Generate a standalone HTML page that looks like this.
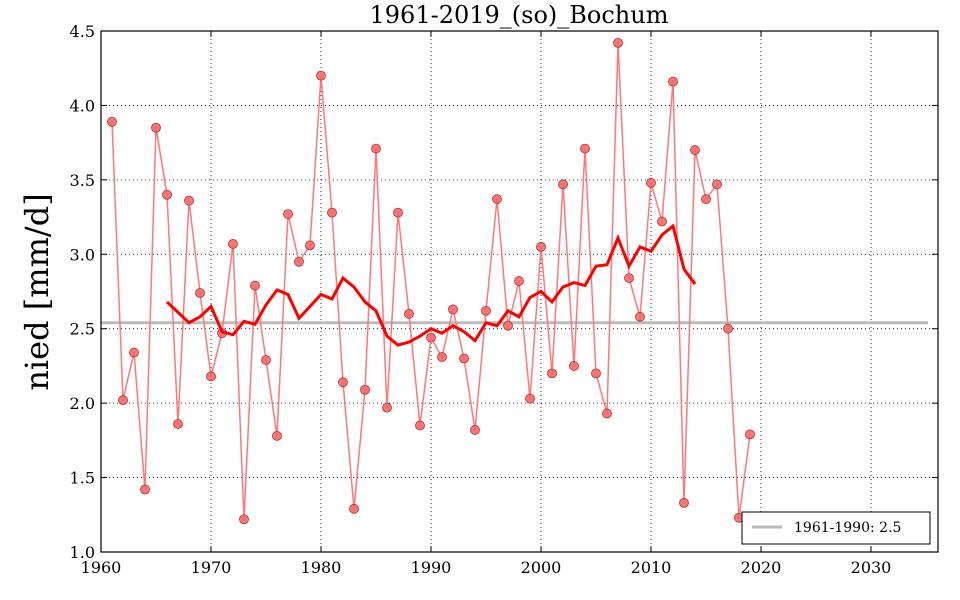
<!DOCTYPE html>
<html><head><meta charset="utf-8"><style>body{margin:0;background:#fff}svg{display:block}text{font-family:"DejaVu Serif","Liberation Serif",serif}</style></head>
<body><svg id="s" width="960" height="600" xmlns="http://www.w3.org/2000/svg"></svg>
<script>
const s=document.getElementById('s');
const X=y=>101+(y-1960)*11.0, Y=v=>552-(v-1)*148.86;
let h='<rect width="960" height="600" fill="#fff"/>';
for(let y=1960;y<=2030;y+=10){h+=`<line x1="${X(y)}" y1="31" x2="${X(y)}" y2="552" stroke="#000" stroke-width="0.8" stroke-dasharray="1,3"/>`;h+=`<text x="${X(y)}" y="573" font-size="16" text-anchor="middle">${y}</text>`;h+=`<line x1="${X(y)}" y1="552" x2="${X(y)}" y2="546" stroke="#000"/><line x1="${X(y)}" y1="31" x2="${X(y)}" y2="37" stroke="#000"/>`;}
for(let v=1;v<=4.51;v+=0.5){h+=`<line x1="101" y1="${Y(v)}" x2="938" y2="${Y(v)}" stroke="#000" stroke-width="0.8" stroke-dasharray="1,3"/>`;h+=`<text x="95" y="${Y(v)+6}" font-size="16" text-anchor="end">${v.toFixed(1)}</text>`;h+=`<line x1="101" y1="${Y(v)}" x2="107" y2="${Y(v)}" stroke="#000"/><line x1="938" y1="${Y(v)}" x2="932" y2="${Y(v)}" stroke="#000"/>`;}
const d=[3.89,2.02,2.34,1.42,3.85,3.40,1.86,3.36,2.74,2.18,2.47,3.07,1.22,2.79,2.29,1.78,3.27,2.95,3.06,4.20,3.28,2.14,1.29,2.09,3.71,1.97,3.28,2.60,1.85,2.44,2.31,2.63,2.30,1.82,2.62,3.37,2.52,2.82,2.03,3.05,2.20,3.47,2.25,3.71,2.20,1.93,4.42,2.84,2.58,3.48,3.22,4.16,1.33,3.70,3.37,3.47,2.50,1.23,1.79];
const m=[2.68,2.61,2.54,2.58,2.65,2.48,2.46,2.55,2.53,2.66,2.76,2.73,2.57,2.65,2.73,2.70,2.84,2.78,2.68,2.62,2.45,2.39,2.41,2.45,2.50,2.47,2.52,2.48,2.42,2.54,2.52,2.62,2.58,2.71,2.75,2.68,2.78,2.81,2.79,2.92,2.93,3.11,2.92,3.05,3.02,3.13,3.19,2.90,2.80];
h+=`<line x1="101" y1="${Y(2.54)}" x2="928" y2="${Y(2.54)}" stroke="#bbb" stroke-width="3"/>`;
h+=`<polyline fill="none" stroke="#f77" stroke-width="1.5" points="${d.map((v,i)=>X(1961+i)+','+Y(v)).join(' ')}"/>`;
d.forEach((v,i)=>h+=`<circle cx="${X(1961+i)}" cy="${Y(v)}" r="4.5" fill="#f66" stroke="#a33" stroke-width="0.8" fill-opacity="0.9"/>`);
h+=`<polyline fill="none" stroke="#f00" stroke-width="3" points="${m.map((v,i)=>X(1966+i)+','+Y(v)).join(' ')}"/>`;
h+=`<rect x="101" y="31" width="837" height="521" fill="none" stroke="#000" stroke-width="1.2"/>`;
h+=`<text x="519" y="23" font-size="24" text-anchor="middle">1961-2019_(so)_Bochum</text>`;
h+=`<text transform="translate(48,292) rotate(-90)" font-size="32" text-anchor="middle">nied [mm/d]</text>`;
h+=`<rect x="742" y="512" width="188" height="32" fill="#fff" stroke="#000"/><line x1="752" y1="527" x2="782" y2="527" stroke="#bbb" stroke-width="3"/><text x="794" y="532" font-size="14">1961-1990: 2.5</text>`;
s.innerHTML=h;
</script></body></html>
